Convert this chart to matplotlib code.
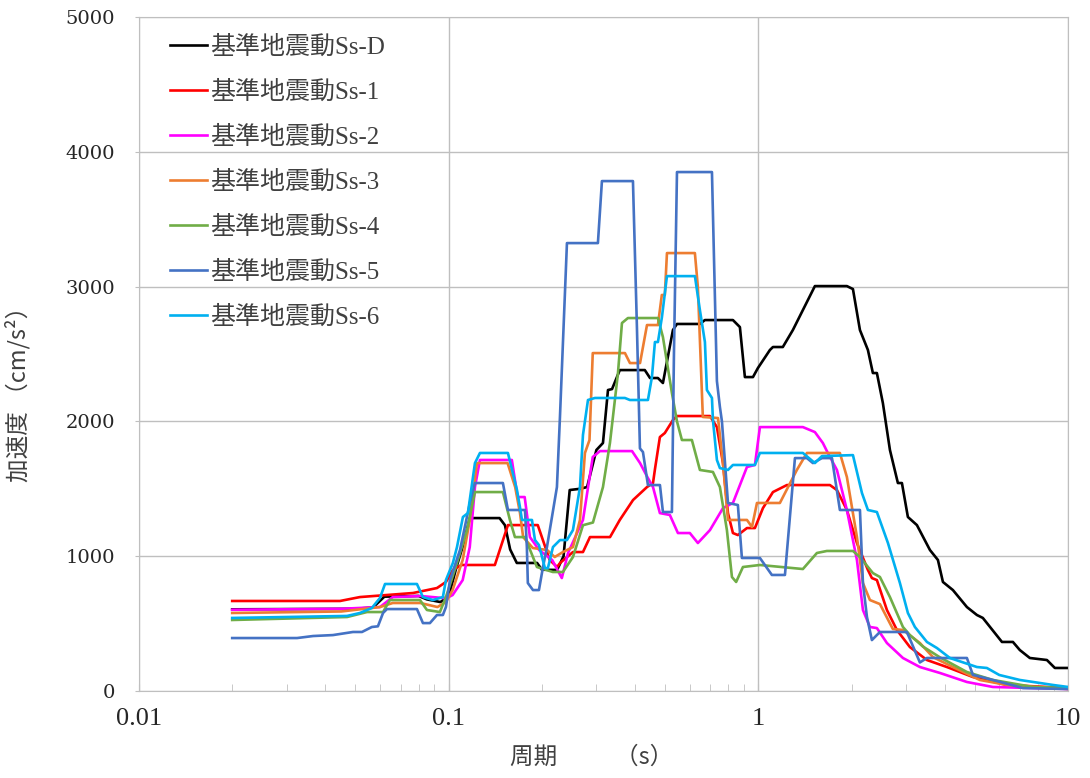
import matplotlib
matplotlib.use('Agg')
import matplotlib.pyplot as plt
from matplotlib.ticker import LogLocator, NullFormatter

plt.rcParams['font.family'] = ['Liberation Serif', 'Noto Sans CJK JP']

labels = ['基準地震動Ss-D', '基準地震動Ss-1', '基準地震動Ss-2', '基準地震動Ss-3',
          '基準地震動Ss-4', '基準地震動Ss-5', '基準地震動Ss-6']
colors = ['#000000', '#FF0000', '#FF00FF', '#ED7D31', '#70AD47', '#4472C4', '#00B0F0']

# 周期 (s) と 加速度 (cm/s2)
sd_t = [0.02, 0.05, 0.057, 0.062, 0.08, 0.085, 0.094, 0.1, 0.106, 0.112, 0.117, 0.146, 0.152,
        0.158, 0.166, 0.193, 0.2, 0.224, 0.235, 0.246, 0.265, 0.28, 0.3, 0.315, 0.327, 0.337,
        0.357, 0.43, 0.447, 0.474, 0.492, 0.53, 0.546, 0.648, 0.672, 0.828, 0.872, 0.905,
        0.961, 0.997, 1.09, 1.115, 1.2, 1.293, 1.523, 1.932, 2.021, 2.129, 2.259, 2.344,
        2.415, 2.525, 2.661, 2.823, 2.909, 3.041, 3.252, 3.583, 3.802, 3.946, 4.25, 4.716,
        5.08, 5.31, 6.12, 6.64, 6.99, 7.53, 8.55, 9.07, 10]
sd_a = [606, 610, 620, 700, 705, 680, 660, 700, 920, 1100, 1283, 1283, 1230,
        1050, 950, 950, 900, 898, 1000, 1491, 1500, 1513, 1788, 1840, 2233, 2240,
        2381, 2381, 2322, 2322, 2285, 2678, 2723, 2723, 2752, 2752, 2700, 2329,
        2329, 2396, 2530, 2552, 2552, 2678, 3004, 3004, 2982, 2678, 2530, 2359,
        2359, 2136, 1788, 1543, 1543, 1291, 1231, 1046, 972, 809, 749, 623,
        564, 542, 364, 364, 304, 245, 230, 171, 171]

s1_t = [0.02, 0.0446, 0.0517, 0.0767, 0.0917, 0.098, 0.1032, 0.11, 0.141, 0.1554, 0.194,
        0.212, 0.224, 0.229, 0.252, 0.2715, 0.286, 0.332, 0.357, 0.394, 0.437, 0.457, 0.464,
        0.481, 0.499, 0.53, 0.546, 0.698, 0.735, 0.769, 0.798, 0.828, 0.859, 0.919, 0.975,
        1.035, 1.115, 1.237, 1.703, 1.794, 1.932, 2.082, 2.259, 2.327, 2.415, 2.602, 2.802,
        3.087, 3.503, 4.064, 4.93, 6.35, 10]
s1_a = [668, 668, 697, 727, 764, 809, 898, 935, 935, 1231, 1231,
        972, 920, 950, 1031, 1031, 1142, 1142, 1269, 1417, 1513, 1543, 1650,
        1884, 1914, 2010, 2040, 2040, 1958, 1690, 1320, 1172, 1157, 1209, 1209,
        1357, 1476, 1528, 1528, 1491, 1343, 1098, 898, 838, 823, 601, 453,
        326, 230, 178, 104, 45, 22]

s2_t = [0.02, 0.045, 0.06, 0.066, 0.081, 0.096, 0.1, 0.103, 0.111, 0.117, 0.1216, 0.1262,
        0.16, 0.167, 0.176, 0.183, 0.196, 0.216, 0.232, 0.243, 0.2715, 0.292, 0.308, 0.391,
        0.415, 0.44, 0.457, 0.481, 0.518, 0.55, 0.601, 0.638, 0.698, 0.769, 0.828, 0.919,
        0.975, 1.012, 1.393, 1.523, 1.616, 1.677, 1.794, 1.932, 2.082, 2.177, 2.293, 2.415,
        2.602, 2.931, 3.325, 3.858, 4.716, 5.72, 10]
s2_a = [603, 610, 623, 697, 705, 690, 697, 712, 823, 1068, 1513, 1714,
        1714, 1439, 1439, 1142, 1046, 972, 838, 1024, 1269, 1736, 1780, 1780,
        1691, 1580, 1513, 1320, 1306, 1172, 1172, 1098, 1194, 1357, 1395, 1662,
        1677, 1958, 1958, 1921, 1840, 1766, 1640, 1343, 972, 601, 475, 467,
        356, 245, 178, 134, 67, 30, 15]

s3_t = [0.02, 0.045, 0.06, 0.066, 0.081, 0.092, 0.098, 0.103, 0.111, 0.117, 0.1234, 0.155,
        0.164, 0.17, 0.174, 0.187, 0.208, 0.22, 0.234, 0.252, 0.2655, 0.2755, 0.285, 0.292,
        0.371, 0.385, 0.415, 0.437, 0.474, 0.488, 0.499, 0.507, 0.624, 0.638, 0.662, 0.741,
        0.769, 0.798, 0.919, 0.954, 0.99, 1.174, 1.332, 1.435, 1.834, 1.932, 2.082, 2.177,
        2.293, 2.47, 2.72, 2.931, 3.325, 3.663, 4.25, 5.19, 6.35, 10]
s3_a = [579, 590, 623, 653, 653, 623, 660, 750, 972, 1269, 1691, 1691,
        1513, 1320, 1142, 1061, 1046, 994, 1031, 1068, 1269, 1766, 1862, 2507,
        2507, 2433, 2433, 2715, 2715, 2938, 2938, 3249, 3249, 2997, 2033, 2025,
        1691, 1269, 1269, 1217, 1395, 1395, 1640, 1766, 1766, 1588, 1142, 801,
        675, 645, 460, 453, 356, 252, 178, 82, 45, 15]

s4_t = [0.02, 0.047, 0.0545, 0.0614, 0.0646, 0.0808, 0.0851, 0.0937, 0.098, 0.1064, 0.1146,
        0.1216, 0.1497, 0.1577, 0.1637, 0.1764, 0.1928, 0.217, 0.2339, 0.252, 0.2715, 0.2924,
        0.315, 0.3318, 0.3522, 0.3628, 0.3793, 0.4741, 0.492, 0.526, 0.5462, 0.5666, 0.6102,
        0.6477, 0.7136, 0.7516, 0.7917, 0.8219, 0.848, 0.892, 1.012, 1.393, 1.546, 1.665,
        2.021, 2.129, 2.344, 2.47, 2.661, 2.931, 3.087, 3.4, 3.858, 4.716, 5.72, 7.7, 10]
s4_a = [527, 549, 586, 586, 675, 675, 601, 586, 697, 950, 1194,
        1476, 1476, 1269, 1142, 1142, 920, 883, 883, 994, 1230, 1250,
        1513, 1840, 2359, 2730, 2767, 2767, 2626, 2211, 2000, 1862, 1862,
        1640, 1625, 1513, 1194, 846, 809, 920, 935, 905, 1024, 1039,
        1039, 994, 875, 846, 697, 475, 415, 330, 250, 141, 82, 30, 22]

s5_t = [0.02, 0.0324, 0.0365, 0.0423, 0.0491, 0.0525, 0.0565, 0.0591, 0.0614, 0.0632, 0.079,
        0.0826, 0.087, 0.0917, 0.0958, 0.098, 0.101, 0.1088, 0.1171, 0.1216, 0.1497, 0.1554,
        0.1764, 0.1789, 0.1802, 0.1872, 0.1957, 0.2017, 0.2077, 0.2156, 0.2237, 0.2288, 0.241,
        0.3034, 0.3126, 0.3937, 0.4055, 0.4147, 0.4241, 0.4401, 0.4812, 0.492, 0.526, 0.534,
        0.5462, 0.7084, 0.735, 0.7516, 0.763, 0.798, 0.859, 0.8851, 1.012, 1.106, 1.219,
        1.313, 1.435, 1.501, 1.605, 1.729, 1.834, 2.129, 2.177, 2.243, 2.327, 2.47, 3.018,
        3.325, 3.503, 4.716, 4.93, 5.72, 7.15, 10]
s5_a = [393, 393, 408, 415, 438, 438, 475, 480, 579, 608, 608,
        504, 504, 564, 564, 623, 823, 1046, 1395, 1543, 1543, 1343,
        1343, 1068, 801, 749, 749, 920, 1068, 1291, 1513, 2033, 3323,
        3323, 3783, 3783, 2700, 1800, 1773, 1528, 1528, 1328, 1328, 2500,
        3850, 3850, 2300, 2107, 2000, 1395, 1380, 987, 987, 861, 861,
        1728, 1728, 1691, 1728, 1728, 1343, 1343, 801, 549, 378, 438, 438,
        212, 245, 245, 120, 82, 22, 15]

s6_t = [0.02, 0.047, 0.0517, 0.0565, 0.06, 0.0623, 0.079, 0.0826, 0.089, 0.0958, 0.098, 0.1032,
        0.1064, 0.1112, 0.1154, 0.1216, 0.1262, 0.1554, 0.1662, 0.1699, 0.1725, 0.1858, 0.19,
        0.1957, 0.2046, 0.2092, 0.2172, 0.2288, 0.241, 0.252, 0.2655, 0.2715, 0.2818, 0.2968,
        0.3708, 0.3849, 0.4401, 0.4534, 0.4636, 0.4741, 0.4884, 0.5069, 0.6241, 0.6477, 0.6723,
        0.6823, 0.7084, 0.7136, 0.735, 0.7516, 0.798, 0.828, 0.975, 1.012, 1.393, 1.523, 1.605,
        2.021, 2.161, 2.259, 2.415, 2.622, 2.866, 3.041, 3.204, 3.503, 3.774, 4.156, 5.08,
        5.47, 6.0, 6.99, 8.94, 10]
s6_a = [542, 557, 579, 616, 690, 794, 794, 697, 675, 697, 823, 950,
        1068, 1291, 1320, 1691, 1766, 1766, 1491, 1365, 1269, 1269, 1120,
        1083, 912, 912, 1068, 1120, 1120, 1194, 1513, 1900, 2159, 2174,
        2174, 2159, 2159, 2329, 2589, 2589, 2774, 3078, 3078, 2826, 2589,
        2233, 2174, 2010, 1714, 1654, 1640, 1677, 1677, 1766, 1766, 1691, 1743,
        1750, 1469, 1343, 1328, 1098, 801, 579, 475, 364, 319, 245, 178,
        171, 119, 82, 45, 30]

periods = [sd_t, s1_t, s2_t, s3_t, s4_t, s5_t, s6_t]
accels = [sd_a, s1_a, s2_a, s3_a, s4_a, s5_a, s6_a]

fig = plt.figure(figsize=(10.9, 7.78), dpi=100)
ax = fig.add_axes([0.1275, 0.1118, 0.8523, 0.8663])

for t, a, lab, c in zip(periods, accels, labels, colors):
    ax.plot(t, a, color=c, lw=1.9, label=lab)

ax.set_xscale('log')
ax.set_xlim(0.01, 10)
ax.set_ylim(0, 5000)
ax.set_xticks([0.01, 0.1, 1, 10])
ax.set_xticklabels(['0.01', '0.1', '1', '10'])
ax.xaxis.set_minor_locator(LogLocator(base=10, subs=range(2, 10)))
ax.xaxis.set_minor_formatter(NullFormatter())
ax.set_yticks(range(0, 5001, 1000))

ax.grid(True, which='major', color='#BFBFBF', lw=1)
for s in ax.spines.values():
    s.set_color('#BFBFBF')
ax.tick_params(axis='x', which='both', direction='in', color='#BFBFBF', length=5,
               pad=12, labelsize=19, labelcolor='#262626')
ax.tick_params(axis='y', direction='out', color='#BFBFBF', length=3, pad=14,
               labelsize=14, labelcolor='#262626')
for lb in ax.get_yticklabels():
    lb.set_family('DejaVu Serif')

ax.set_xlabel('周期　　  （s）', fontsize=17, family='Noto Sans CJK JP', color='#404040')
ax.xaxis.set_label_coords(0.487, -0.0816)
ax.set_ylabel('加速度 （cm/s²）', fontsize=17, family='Noto Sans CJK JP', color='#404040')
ax.yaxis.set_label_coords(-0.1173, 0.449)

leg = ax.legend(loc='upper left', bbox_to_anchor=(0.033, 0.973), frameon=False, fontsize=18,
                handlelength=1.5, handletextpad=0.1, labelspacing=0.87, borderpad=0,
                borderaxespad=0)
for tx in leg.get_texts():
    tx.set_color('#404040')

plt.savefig('out.png', dpi=100)
